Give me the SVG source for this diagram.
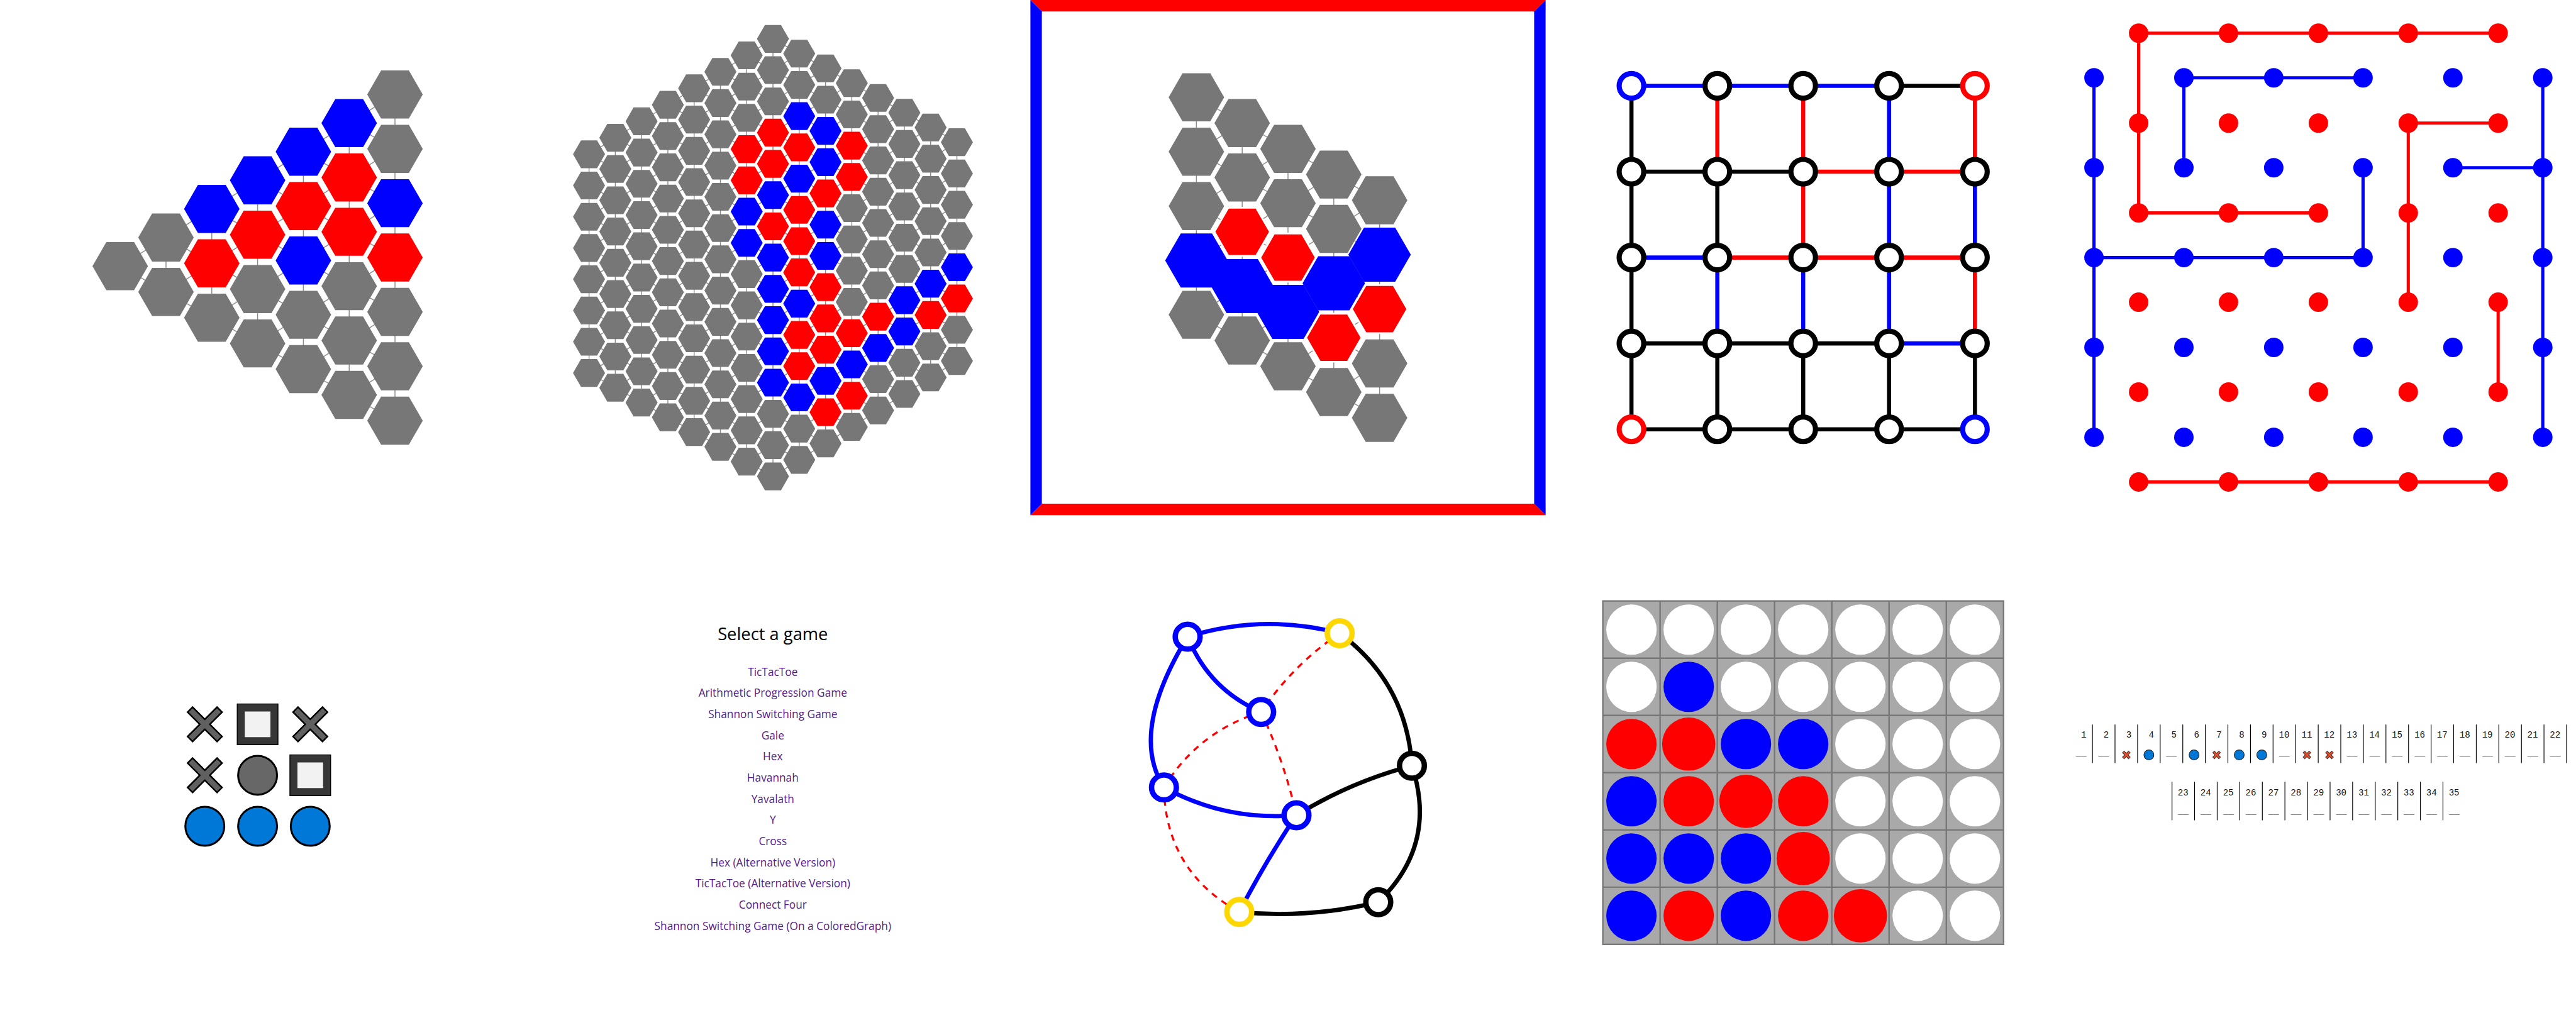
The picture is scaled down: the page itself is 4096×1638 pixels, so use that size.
<svg xmlns="http://www.w3.org/2000/svg" width="4096" height="1638" viewBox="0 0 4096 1638">
<defs>
<style>
.g{fill:#777777}.r{fill:#ff0000}.b{fill:#0000ff}.w{fill:#ffffff}
.lk{stroke:#8c8c8c;stroke-width:1.6;fill:none}
.rw{stroke:#ffffff;stroke-width:3}
.e{stroke-width:7.2;fill:none}
.ek{stroke:#000}.er{stroke:#f00}.eb{stroke:#00f}
.nd{fill:#fff;stroke-width:9}
.dl{stroke-width:5.6;fill:none}
.ge{fill:none;stroke-width:7.5}
.gd{fill:none;stroke:#f00;stroke-width:3.6;stroke-dasharray:11 10}
.gn{fill:#fff;stroke-width:9.4}
.menu{font-family:"Open Sans","Noto Sans",sans-serif;text-anchor:middle}
.it{font-size:19px;fill:#551a8b}
.num{font-family:"Liberation Mono","Courier New",monospace;font-size:15.5px;fill:#111;text-anchor:end}
.us{font-family:"Liberation Mono","Courier New",monospace;font-size:15.5px;fill:#111;text-anchor:middle}
</style>
<polygon id="h1" points="48.5,0 24.25,42 -24.25,42 -48.5,0 -24.25,-42 24.25,-42"/>
<polygon id="h2" points="28,0 14,24.25 -14,24.25 -28,0 -14,-24.25 14,-24.25"/>
<g id="xm"><path d="M-26.7,-26.7L26.7,26.7M26.7,-26.7L-26.7,26.7" stroke="#000" stroke-width="15" fill="none"/><path d="M-24.8,-24.8L24.8,24.8M24.8,-24.8L-24.8,24.8" stroke="#606060" stroke-width="9.6" fill="none"/></g>
<g id="sq"><rect x="-35.6" y="-35.6" width="71.2" height="71.2" fill="#363636" stroke="#000" stroke-width="1.5"/><rect x="-22.4" y="-22.4" width="44.8" height="44.8" fill="#f2f2f2"/></g>
<g id="sx"><path d="M-5.7,-5.7L5.7,5.7M5.7,-5.7L-5.7,5.7" stroke="#3a3a3a" stroke-width="5.2" fill="none"/><path d="M-5,-5L5,5M5,-5L-5,5" stroke="#e84a27" stroke-width="3" fill="none"/></g>
<circle id="so" r="8.7" fill="#0078d7" stroke="#222" stroke-width="1.2"/>
</defs>
<rect width="4096" height="1638" fill="#fff"/>
<g transform="scale(0.91022)">

<!-- Panel 1: triangular hex board -->
<g id="hex-triangle">
<path class="lk" d="M290,415V510M370,365V555M450,315V600M530,265V645M610,215V690M690,165V735M210,465L690,165M290,510L690,260M370,555L690,355M450,600L690,450M530,645L690,545M610,690L690,640M210,465L690,735M290,415L690,640M370,365L690,545M450,315L690,450M530,265L690,355M610,215L690,260"/>
<use href="#h1" x="210" y="465" class="g"/>
<use href="#h1" x="290" y="415" class="g"/><use href="#h1" x="290" y="510" class="g"/>
<use href="#h1" x="370" y="365" class="b"/><use href="#h1" x="370" y="460" class="r"/><use href="#h1" x="370" y="555" class="g"/>
<use href="#h1" x="450" y="315" class="b"/><use href="#h1" x="450" y="410" class="r"/><use href="#h1" x="450" y="505" class="g"/><use href="#h1" x="450" y="600" class="g"/>
<use href="#h1" x="530" y="265" class="b"/><use href="#h1" x="530" y="360" class="r"/><use href="#h1" x="530" y="455" class="b"/><use href="#h1" x="530" y="550" class="g"/><use href="#h1" x="530" y="645" class="g"/>
<use href="#h1" x="610" y="215" class="b"/><use href="#h1" x="610" y="310" class="r"/><use href="#h1" x="610" y="405" class="r"/><use href="#h1" x="610" y="500" class="g"/><use href="#h1" x="610" y="595" class="g"/><use href="#h1" x="610" y="690" class="g"/>
<use href="#h1" x="690" y="165" class="g"/><use href="#h1" x="690" y="260" class="g"/><use href="#h1" x="690" y="355" class="b"/><use href="#h1" x="690" y="450" class="r"/><use href="#h1" x="690" y="545" class="g"/><use href="#h1" x="690" y="640" class="g"/><use href="#h1" x="690" y="735" class="g"/>
</g>

<!-- Panel 2: hexagonal board -->
<g id="hex-board">
<path class="lk" d="M1029,269.5V651.7M1074.9,240.7V677.5M1120.8,211.9V703.3M1166.7,183.1V729.1M1212.6,154.3V754.9M1258.5,125.5V780.7M1304.4,96.7V806.5M1350.3,67.9V832.3M1396.2,93.7V803.5M1442.1,119.5V774.7M1488,145.3V745.9M1533.9,171.1V717.1M1579.8,196.9V688.3M1625.7,222.7V659.5M1671.6,248.5V630.7M1029,269.5L1350.3,67.9M1029,324.1L1396.2,93.7M1029,378.7L1442.1,119.5M1029,433.3L1488,145.3M1029,487.9L1533.9,171.1M1029,542.5L1579.8,196.9M1029,597.1L1625.7,222.7M1029,651.7L1671.6,248.5M1074.9,677.5L1671.6,303.1M1120.8,703.3L1671.6,357.7M1166.7,729.1L1671.6,412.3M1212.6,754.9L1671.6,466.9M1258.5,780.7L1671.6,521.5M1304.4,806.5L1671.6,576.1M1350.3,832.3L1671.6,630.7M1350.3,67.9L1671.6,248.5M1304.4,96.7L1671.6,303.1M1258.5,125.5L1671.6,357.7M1212.6,154.3L1671.6,412.3M1166.7,183.1L1671.6,466.9M1120.8,211.9L1671.6,521.5M1074.9,240.7L1671.6,576.1M1029,269.5L1671.6,630.7M1029,324.1L1625.7,659.5M1029,378.7L1579.8,688.3M1029,433.3L1533.9,717.1M1029,487.9L1488,745.9M1029,542.5L1442.1,774.7M1029,597.1L1396.2,803.5M1029,651.7L1350.3,832.3"/>
<g class="g" transform="translate(1029,269.5)"><use href="#h2"/><use href="#h2" y="54.6"/><use href="#h2" y="109.2"/><use href="#h2" y="163.8"/><use href="#h2" y="218.4"/><use href="#h2" y="273"/><use href="#h2" y="327.6"/><use href="#h2" y="382.2"/></g>
<g class="g" transform="translate(1074.9,240.7)"><use href="#h2"/><use href="#h2" y="54.6"/><use href="#h2" y="109.2"/><use href="#h2" y="163.8"/><use href="#h2" y="218.4"/><use href="#h2" y="273"/><use href="#h2" y="327.6"/><use href="#h2" y="382.2"/><use href="#h2" y="436.8"/></g>
<g class="g" transform="translate(1120.8,211.9)"><use href="#h2"/><use href="#h2" y="54.6"/><use href="#h2" y="109.2"/><use href="#h2" y="163.8"/><use href="#h2" y="218.4"/><use href="#h2" y="273"/><use href="#h2" y="327.6"/><use href="#h2" y="382.2"/><use href="#h2" y="436.8"/><use href="#h2" y="491.4"/></g>
<g class="g" transform="translate(1166.7,183.1)"><use href="#h2"/><use href="#h2" y="54.6"/><use href="#h2" y="109.2"/><use href="#h2" y="163.8"/><use href="#h2" y="218.4"/><use href="#h2" y="273"/><use href="#h2" y="327.6"/><use href="#h2" y="382.2"/><use href="#h2" y="436.8"/><use href="#h2" y="491.4"/><use href="#h2" y="546"/></g>
<g class="g" transform="translate(1212.6,154.3)"><use href="#h2"/><use href="#h2" y="54.6"/><use href="#h2" y="109.2"/><use href="#h2" y="163.8"/><use href="#h2" y="218.4"/><use href="#h2" y="273"/><use href="#h2" y="327.6"/><use href="#h2" y="382.2"/><use href="#h2" y="436.8"/><use href="#h2" y="491.4"/><use href="#h2" y="546"/><use href="#h2" y="600.6"/></g>
<g class="g" transform="translate(1258.5,125.5)"><use href="#h2"/><use href="#h2" y="54.6"/><use href="#h2" y="109.2"/><use href="#h2" y="163.8"/><use href="#h2" y="218.4"/><use href="#h2" y="273"/><use href="#h2" y="327.6"/><use href="#h2" y="382.2"/><use href="#h2" y="436.8"/><use href="#h2" y="491.4"/><use href="#h2" y="546"/><use href="#h2" y="600.6"/><use href="#h2" y="655.2"/></g>
<g class="g" transform="translate(1304.4,96.7)"><use href="#h2"/><use href="#h2" y="54.6"/><use href="#h2" y="109.2"/><use href="#h2" y="163.8" class="r"/><use href="#h2" y="218.4" class="r"/><use href="#h2" y="273" class="b"/><use href="#h2" y="327.6" class="b"/><use href="#h2" y="382.2"/><use href="#h2" y="436.8"/><use href="#h2" y="491.4"/><use href="#h2" y="546"/><use href="#h2" y="600.6"/><use href="#h2" y="655.2"/><use href="#h2" y="709.8"/></g>
<g class="g" transform="translate(1350.3,67.9)"><use href="#h2"/><use href="#h2" y="54.6"/><use href="#h2" y="109.2"/><use href="#h2" y="163.8" class="r"/><use href="#h2" y="218.4" class="r"/><use href="#h2" y="273" class="b"/><use href="#h2" y="327.6" class="r"/><use href="#h2" y="382.2" class="b"/><use href="#h2" y="436.8" class="b"/><use href="#h2" y="491.4" class="b"/><use href="#h2" y="546" class="b"/><use href="#h2" y="600.6" class="b"/><use href="#h2" y="655.2"/><use href="#h2" y="709.8"/><use href="#h2" y="764.4"/></g>
<g class="g" transform="translate(1396.2,93.7)"><use href="#h2"/><use href="#h2" y="54.6"/><use href="#h2" y="109.2" class="b"/><use href="#h2" y="163.8" class="r"/><use href="#h2" y="218.4" class="b"/><use href="#h2" y="273" class="r"/><use href="#h2" y="327.6" class="r"/><use href="#h2" y="382.2" class="r"/><use href="#h2" y="436.8" class="b"/><use href="#h2" y="491.4" class="r"/><use href="#h2" y="546" class="r"/><use href="#h2" y="600.6" class="b"/><use href="#h2" y="655.2"/><use href="#h2" y="709.8"/></g>
<g class="g" transform="translate(1442.1,119.5)"><use href="#h2"/><use href="#h2" y="54.6"/><use href="#h2" y="109.2" class="b"/><use href="#h2" y="163.8" class="b"/><use href="#h2" y="218.4" class="r"/><use href="#h2" y="273" class="b"/><use href="#h2" y="327.6" class="b"/><use href="#h2" y="382.2" class="r"/><use href="#h2" y="436.8" class="r"/><use href="#h2" y="491.4" class="r"/><use href="#h2" y="546" class="b"/><use href="#h2" y="600.6" class="r"/><use href="#h2" y="655.2"/></g>
<g class="g" transform="translate(1488,145.3)"><use href="#h2"/><use href="#h2" y="54.6"/><use href="#h2" y="109.2" class="r"/><use href="#h2" y="163.8" class="r"/><use href="#h2" y="218.4"/><use href="#h2" y="273"/><use href="#h2" y="327.6"/><use href="#h2" y="382.2"/><use href="#h2" y="436.8" class="r"/><use href="#h2" y="491.4" class="b"/><use href="#h2" y="546" class="r"/><use href="#h2" y="600.6"/></g>
<g class="g" transform="translate(1533.9,171.1)"><use href="#h2"/><use href="#h2" y="54.6"/><use href="#h2" y="109.2"/><use href="#h2" y="163.8"/><use href="#h2" y="218.4"/><use href="#h2" y="273"/><use href="#h2" y="327.6"/><use href="#h2" y="382.2" class="r"/><use href="#h2" y="436.8" class="b"/><use href="#h2" y="491.4"/><use href="#h2" y="546"/></g>
<g class="g" transform="translate(1579.8,196.9)"><use href="#h2"/><use href="#h2" y="54.6"/><use href="#h2" y="109.2"/><use href="#h2" y="163.8"/><use href="#h2" y="218.4"/><use href="#h2" y="273"/><use href="#h2" y="327.6" class="b"/><use href="#h2" y="382.2" class="b"/><use href="#h2" y="436.8"/><use href="#h2" y="491.4"/></g>
<g class="g" transform="translate(1625.7,222.7)"><use href="#h2"/><use href="#h2" y="54.6"/><use href="#h2" y="109.2"/><use href="#h2" y="163.8"/><use href="#h2" y="218.4"/><use href="#h2" y="273" class="b"/><use href="#h2" y="327.6" class="r"/><use href="#h2" y="382.2"/><use href="#h2" y="436.8"/></g>
<g class="g" transform="translate(1671.6,248.5)"><use href="#h2"/><use href="#h2" y="54.6"/><use href="#h2" y="109.2"/><use href="#h2" y="163.8"/><use href="#h2" y="218.4" class="b"/><use href="#h2" y="273" class="r"/><use href="#h2" y="327.6"/><use href="#h2" y="382.2"/></g>
</g>

<!-- Panel 3: framed hex board -->
<g id="hex-framed">
<polygon points="1800,0 2700,0 2680,20 1820,20" fill="#f00"/>
<polygon points="1800,900 2700,900 2680,880 1820,880" fill="#f00"/>
<polygon points="1800,0 1820,20 1820,880 1800,900" fill="#00f"/>
<polygon points="2700,0 2680,20 2680,880 2700,900" fill="#00f"/>
<path class="lk" d="M2090,170V550M2170,215V595M2250,260V640M2330,305V685M2410,350V730M2090,170L2410,350M2090,265L2410,445M2090,360L2410,540M2090,455L2410,635M2090,550L2410,730M2090,265L2170,215M2090,360L2250,260M2090,455L2330,305M2090,550L2410,350M2170,595L2410,445M2250,640L2410,540M2330,685L2410,635"/>
<g class="g">
<use href="#h1" x="2090" y="170"/><use href="#h1" x="2090" y="265"/><use href="#h1" x="2090" y="360"/><use href="#h1" x="2090" y="550"/>
<use href="#h1" x="2170" y="215"/><use href="#h1" x="2170" y="310"/><use href="#h1" x="2170" y="595"/>
<use href="#h1" x="2250" y="260"/><use href="#h1" x="2250" y="355"/><use href="#h1" x="2250" y="640"/>
<use href="#h1" x="2330" y="305"/><use href="#h1" x="2330" y="400"/><use href="#h1" x="2330" y="685"/>
<use href="#h1" x="2410" y="350"/><use href="#h1" x="2410" y="635"/><use href="#h1" x="2410" y="730"/>
</g>
<g class="b">
<use href="#h1" transform="translate(2090,455) scale(1.125)"/>
<use href="#h1" transform="translate(2170,500) scale(1.125)"/>
<use href="#h1" transform="translate(2250,545) scale(1.125)"/>
<use href="#h1" transform="translate(2330,495) scale(1.125)"/>
<use href="#h1" transform="translate(2410,445) scale(1.125)"/>
</g>
<g class="r rw">
<use href="#h1" x="2170" y="405"/><use href="#h1" x="2250" y="450"/><use href="#h1" x="2330" y="590"/><use href="#h1" x="2410" y="540"/>
</g>
</g>

<!-- Panel 4: grid graph -->
<g id="grid-graph">
<g id="grid-edges" class="e">
<path class="eb" d="M2850,150H3300M2850,450H3000M3300,600H3450M3300,150V450M3450,300V450M3000,450V600M3150,450V600M3300,450V600"/>
<path class="er" d="M3150,300H3450M3000,450H3450M3000,150V300M3150,150V450M3450,150V300M3450,450V600"/>
<path class="ek" d="M3300,150H3450M2850,300H3150M2850,600H3300M2850,750H3450M2850,150V750M3000,300V450M3000,600V750M3150,600V750M3300,600V750M3450,600V750"/>
</g>
<g class="nd" stroke="#000">
<circle cx="3000" cy="150" r="21.5"/><circle cx="3150" cy="150" r="21.5"/><circle cx="3300" cy="150" r="21.5"/>
<circle cx="2850" cy="300" r="21.5"/><circle cx="3000" cy="300" r="21.5"/><circle cx="3150" cy="300" r="21.5"/><circle cx="3300" cy="300" r="21.5"/><circle cx="3450" cy="300" r="21.5"/>
<circle cx="2850" cy="450" r="21.5"/><circle cx="3000" cy="450" r="21.5"/><circle cx="3150" cy="450" r="21.5"/><circle cx="3300" cy="450" r="21.5"/><circle cx="3450" cy="450" r="21.5"/>
<circle cx="2850" cy="600" r="21.5"/><circle cx="3000" cy="600" r="21.5"/><circle cx="3150" cy="600" r="21.5"/><circle cx="3300" cy="600" r="21.5"/><circle cx="3450" cy="600" r="21.5"/>
<circle cx="3000" cy="750" r="21.5"/><circle cx="3150" cy="750" r="21.5"/><circle cx="3300" cy="750" r="21.5"/>
</g>
<circle class="nd" stroke="#00f" cx="2850" cy="150" r="21.5"/>
<circle class="nd" stroke="#f00" cx="3450" cy="150" r="21.5"/>
<circle class="nd" stroke="#f00" cx="2850" cy="750" r="21.5"/>
<circle class="nd" stroke="#00f" cx="3450" cy="750" r="21.5"/>
</g>

<!-- Panel 5: dot board -->
<g id="dot-board">
<g id="dot-edges" class="dl">
<path stroke="#f00" d="M3736,58H4364M3736,58V372M3736,372H4050M4207,215H4364M4207,215V528M4364,528V685M3736,842H4364"/>
<path stroke="#00f" d="M3658,136V764M3815,136H4128M3815,136V293M4128,293V450M3658,450H4128M4285,293H4442M4442,136V764"/>
</g>
<g fill="#f00">
<circle cx="3736" cy="58" r="17"/><circle cx="3893" cy="58" r="17"/><circle cx="4050" cy="58" r="17"/><circle cx="4207" cy="58" r="17"/><circle cx="4364" cy="58" r="17"/>
<circle cx="3736" cy="215" r="17"/><circle cx="3893" cy="215" r="17"/><circle cx="4050" cy="215" r="17"/><circle cx="4207" cy="215" r="17"/><circle cx="4364" cy="215" r="17"/>
<circle cx="3736" cy="372" r="17"/><circle cx="3893" cy="372" r="17"/><circle cx="4050" cy="372" r="17"/><circle cx="4207" cy="372" r="17"/><circle cx="4364" cy="372" r="17"/>
<circle cx="3736" cy="528" r="17"/><circle cx="3893" cy="528" r="17"/><circle cx="4050" cy="528" r="17"/><circle cx="4207" cy="528" r="17"/><circle cx="4364" cy="528" r="17"/>
<circle cx="3736" cy="685" r="17"/><circle cx="3893" cy="685" r="17"/><circle cx="4050" cy="685" r="17"/><circle cx="4207" cy="685" r="17"/><circle cx="4364" cy="685" r="17"/>
<circle cx="3736" cy="842" r="17"/><circle cx="3893" cy="842" r="17"/><circle cx="4050" cy="842" r="17"/><circle cx="4207" cy="842" r="17"/><circle cx="4364" cy="842" r="17"/>
</g>
<g fill="#00f">
<circle cx="3658" cy="136" r="17"/><circle cx="3815" cy="136" r="17"/><circle cx="3972" cy="136" r="17"/><circle cx="4128" cy="136" r="17"/><circle cx="4285" cy="136" r="17"/><circle cx="4442" cy="136" r="17"/>
<circle cx="3658" cy="293" r="17"/><circle cx="3815" cy="293" r="17"/><circle cx="3972" cy="293" r="17"/><circle cx="4128" cy="293" r="17"/><circle cx="4285" cy="293" r="17"/><circle cx="4442" cy="293" r="17"/>
<circle cx="3658" cy="450" r="17"/><circle cx="3815" cy="450" r="17"/><circle cx="3972" cy="450" r="17"/><circle cx="4128" cy="450" r="17"/><circle cx="4285" cy="450" r="17"/><circle cx="4442" cy="450" r="17"/>
<circle cx="3658" cy="607" r="17"/><circle cx="3815" cy="607" r="17"/><circle cx="3972" cy="607" r="17"/><circle cx="4128" cy="607" r="17"/><circle cx="4285" cy="607" r="17"/><circle cx="4442" cy="607" r="17"/>
<circle cx="3658" cy="764" r="17"/><circle cx="3815" cy="764" r="17"/><circle cx="3972" cy="764" r="17"/><circle cx="4128" cy="764" r="17"/><circle cx="4285" cy="764" r="17"/><circle cx="4442" cy="764" r="17"/>
</g>
</g>

<!-- Panel 6: tic tac toe -->
<g id="tictactoe">
<use href="#xm" x="357.8" y="1265.5"/>
<use href="#sq" x="450" y="1265.5"/>
<use href="#xm" x="542" y="1265.5"/>
<use href="#xm" x="357.8" y="1354.5"/>
<circle cx="450" cy="1354.5" r="34" fill="#676767" stroke="#000" stroke-width="3.4"/>
<use href="#sq" x="542" y="1354.5"/>
<circle cx="357.8" cy="1443.5" r="34" fill="#0078d7" stroke="#000" stroke-width="3.4"/>
<circle cx="450" cy="1443.5" r="34" fill="#0078d7" stroke="#000" stroke-width="3.4"/>
<circle cx="542" cy="1443.5" r="34" fill="#0078d7" stroke="#000" stroke-width="3.4"/>
</g>

<!-- Panel 7: menu -->
<g id="menu" class="menu">
<text x="1350" y="1118" font-size="30" fill="#000">Select a game</text>
<g class="it">
<text x="1350" y="1180.5">TicTacToe</text>
<text x="1350" y="1217.5">Arithmetic Progression Game</text>
<text x="1350" y="1254.5">Shannon Switching Game</text>
<text x="1350" y="1291.5">Gale</text>
<text x="1350" y="1328.5">Hex</text>
<text x="1350" y="1365.5">Havannah</text>
<text x="1350" y="1402.5">Yavalath</text>
<text x="1350" y="1439.5">Y</text>
<text x="1350" y="1476.5">Cross</text>
<text x="1350" y="1513.5">Hex (Alternative Version)</text>
<text x="1350" y="1550.5">TicTacToe (Alternative Version)</text>
<text x="1350" y="1587.5">Connect Four</text>
<text x="1350" y="1624.5">Shannon Switching Game (On a ColoredGraph)</text>
</g>
</g>

<!-- Panel 8: colored graph -->
<g id="colored-graph">
<g id="graph-edges">
<path class="gd" d="M2340.2,1106.3Q2258,1162 2203.1,1244"/>
<path class="gd" d="M2203.1,1244Q2093,1278 2033.3,1375.7"/>
<path class="gd" d="M2203.1,1244Q2243.5,1331 2264.8,1424.3"/>
<path class="gd" d="M2033.3,1375.7Q2036,1522 2164.9,1593.4"/>
<path class="ge" stroke="#00f" d="M2074.7,1112.4Q2207.5,1071.4 2340.2,1106.3M2074.7,1112.4Q2112,1205 2203.1,1244M2074.7,1112.4Q1972,1280 2033.3,1375.7M2033.3,1375.7Q2141.6,1435 2264.8,1424.3M2264.8,1424.3Q2210,1506 2164.9,1593.4"/>
<path class="ge" stroke="#000" d="M2340.2,1106.3Q2457,1193 2466.5,1337.8M2466.5,1337.8Q2359,1366 2264.8,1424.3M2466.5,1337.8Q2512,1476 2407.7,1576.2M2164.9,1593.4Q2286.3,1605.5 2407.7,1576.2"/>
</g>
<circle id="gA" class="gn" stroke="#00f" cx="2074.7" cy="1112.4" r="21.7"/>
<circle id="gB" class="gn" stroke="#ffd700" cx="2340.2" cy="1106.3" r="21.7"/>
<circle id="gC" class="gn" stroke="#00f" cx="2203.1" cy="1244" r="21.7"/>
<circle id="gD" class="gn" stroke="#000" cx="2466.5" cy="1337.8" r="21.7"/>
<circle id="gE" class="gn" stroke="#00f" cx="2033.3" cy="1375.7" r="21.7"/>
<circle id="gF" class="gn" stroke="#00f" cx="2264.8" cy="1424.3" r="21.7"/>
<circle id="gG" class="gn" stroke="#ffd700" cx="2164.9" cy="1593.4" r="21.7"/>
<circle id="gH" class="gn" stroke="#000" cx="2407.7" cy="1576.2" r="21.7"/>
</g>

<!-- Panel 9: connect four -->
<g id="connect-four">
<rect x="2800" y="1050" width="700" height="600" fill="#a9a9a9" stroke="#777" stroke-width="2.6"/>
<path d="M2900,1050V1650M3000,1050V1650M3100,1050V1650M3200,1050V1650M3300,1050V1650M3400,1050V1650M2800,1150H3500M2800,1250H3500M2800,1350H3500M2800,1450H3500M2800,1550H3500" stroke="#777" stroke-width="2.6" fill="none"/>
<g class="w">
<circle cx="2850" cy="1100" r="44"/><circle cx="2950" cy="1100" r="44"/><circle cx="3050" cy="1100" r="44"/><circle cx="3150" cy="1100" r="44"/><circle cx="3250" cy="1100" r="44"/><circle cx="3350" cy="1100" r="44"/><circle cx="3450" cy="1100" r="44"/>
<circle cx="2850" cy="1200" r="44"/><circle cx="3050" cy="1200" r="44"/><circle cx="3150" cy="1200" r="44"/><circle cx="3250" cy="1200" r="44"/><circle cx="3350" cy="1200" r="44"/><circle cx="3450" cy="1200" r="44"/>
<circle cx="3250" cy="1300" r="44"/><circle cx="3350" cy="1300" r="44"/><circle cx="3450" cy="1300" r="44"/>
<circle cx="3250" cy="1400" r="44"/><circle cx="3350" cy="1400" r="44"/><circle cx="3450" cy="1400" r="44"/>
<circle cx="3250" cy="1500" r="44"/><circle cx="3350" cy="1500" r="44"/><circle cx="3450" cy="1500" r="44"/>
<circle cx="3350" cy="1600" r="44"/><circle cx="3450" cy="1600" r="44"/>
</g>
<g class="b">
<circle cx="2950" cy="1200" r="44"/>
<circle cx="3050" cy="1300" r="44"/><circle cx="3150" cy="1300" r="44"/>
<circle cx="2850" cy="1400" r="44"/>
<circle cx="2850" cy="1500" r="44"/><circle cx="2950" cy="1500" r="44"/><circle cx="3050" cy="1500" r="44"/>
<circle cx="2850" cy="1600" r="44"/><circle cx="3050" cy="1600" r="44"/>
</g>
<g class="r">
<circle cx="2850" cy="1300" r="44"/><circle cx="2950" cy="1300" r="46.5"/>
<circle cx="2950" cy="1400" r="44"/><circle cx="3050" cy="1400" r="46.5"/><circle cx="3150" cy="1400" r="44"/>
<circle cx="3150" cy="1500" r="46.5"/>
<circle cx="2950" cy="1600" r="44"/><circle cx="3150" cy="1600" r="44"/><circle cx="3250" cy="1600" r="46.5"/>
</g>
</g>

<!-- Panel 10: number strip -->
<g id="number-strip">
<path stroke="#000" stroke-width="1.3" fill="none" d="M3655.3,1266V1333.3M3694.7,1266V1333.3M3734.2,1266V1333.3M3773.6,1266V1333.3M3813.1,1266V1333.3M3852.5,1266V1333.3M3891.9,1266V1333.3M3931.4,1266V1333.3M3970.8,1266V1333.3M4010.3,1266V1333.3M4049.7,1266V1333.3M4089.1,1266V1333.3M4128.6,1266V1333.3M4168,1266V1333.3M4207.5,1266V1333.3M4246.9,1266V1333.3M4286.3,1266V1333.3M4325.8,1266V1333.3M4365.2,1266V1333.3M4404.7,1266V1333.3M4444.1,1266V1333.3M4483.5,1266V1333.3M3794.3,1366V1433.3M3833.7,1366V1433.3M3873.2,1366V1433.3M3912.6,1366V1433.3M3952.1,1366V1433.3M3991.5,1366V1433.3M4030.9,1366V1433.3M4070.4,1366V1433.3M4109.8,1366V1433.3M4149.3,1366V1433.3M4188.7,1366V1433.3M4228.1,1366V1433.3M4267.6,1366V1433.3"/>
<g class="num">
<text x="3644.6" y="1288.3">1</text><text x="3684" y="1288.3">2</text><text x="3723.5" y="1288.3">3</text><text x="3762.9" y="1288.3">4</text><text x="3802.4" y="1288.3">5</text><text x="3841.8" y="1288.3">6</text><text x="3881.2" y="1288.3">7</text><text x="3920.7" y="1288.3">8</text><text x="3960.1" y="1288.3">9</text><text x="3999.6" y="1288.3">10</text><text x="4039" y="1288.3">11</text><text x="4078.4" y="1288.3">12</text><text x="4117.9" y="1288.3">13</text><text x="4157.3" y="1288.3">14</text><text x="4196.8" y="1288.3">15</text><text x="4236.2" y="1288.3">16</text><text x="4275.6" y="1288.3">17</text><text x="4315.1" y="1288.3">18</text><text x="4354.5" y="1288.3">19</text><text x="4394" y="1288.3">20</text><text x="4433.4" y="1288.3">21</text><text x="4472.8" y="1288.3">22</text>
<text x="3823" y="1389.3">23</text><text x="3862.4" y="1389.3">24</text><text x="3901.9" y="1389.3">25</text><text x="3941.3" y="1389.3">26</text><text x="3980.8" y="1389.3">27</text><text x="4020.2" y="1389.3">28</text><text x="4059.6" y="1389.3">29</text><text x="4099.1" y="1389.3">30</text><text x="4138.5" y="1389.3">31</text><text x="4178" y="1389.3">32</text><text x="4217.4" y="1389.3">33</text><text x="4256.8" y="1389.3">34</text><text x="4296.3" y="1389.3">35</text>
</g>
<g class="us">
<text x="3635.6" y="1321">__</text><text x="3675" y="1321">__</text><text x="3793.4" y="1321">__</text><text x="3990.6" y="1321">__</text><text x="4108.9" y="1321">__</text><text x="4148.3" y="1321">__</text><text x="4187.8" y="1321">__</text><text x="4227.2" y="1321">__</text><text x="4266.6" y="1321">__</text><text x="4306.1" y="1321">__</text><text x="4345.5" y="1321">__</text><text x="4385" y="1321">__</text><text x="4424.4" y="1321">__</text><text x="4463.8" y="1321">__</text>
<text x="3814" y="1421.7">__</text><text x="3853.4" y="1421.7">__</text><text x="3892.9" y="1421.7">__</text><text x="3932.3" y="1421.7">__</text><text x="3971.8" y="1421.7">__</text><text x="4011.2" y="1421.7">__</text><text x="4050.6" y="1421.7">__</text><text x="4090.1" y="1421.7">__</text><text x="4129.5" y="1421.7">__</text><text x="4169" y="1421.7">__</text><text x="4208.4" y="1421.7">__</text><text x="4247.8" y="1421.7">__</text><text x="4287.3" y="1421.7">__</text>
</g>
<use href="#sx" x="3714.5" y="1319"/><use href="#sx" x="3872.2" y="1319"/><use href="#sx" x="4030" y="1319"/><use href="#sx" x="4069.4" y="1319"/>
<use href="#so" x="3753.9" y="1319"/><use href="#so" x="3832.8" y="1319"/><use href="#so" x="3911.7" y="1319"/><use href="#so" x="3951.1" y="1319"/>
</g>

</g>
</svg>
